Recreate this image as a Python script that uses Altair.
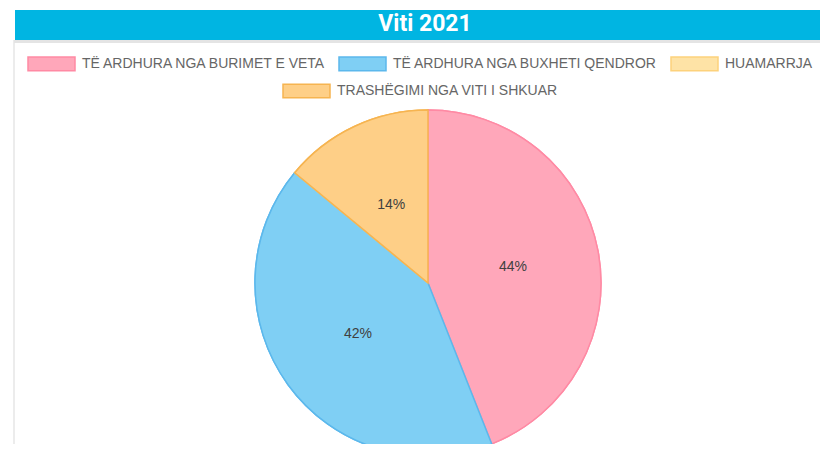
import altair as alt
import pandas as pd

title_text = "Viti 2021"
categories = [
    "TË ARDHURA NGA BURIMET E VETA",
    "TË ARDHURA NGA BUXHETI QENDROR",
    "HUAMARRJA",
    "TRASHËGIMI NGA VITI I SHKUAR",
]
shares = [44, 42, 0, 14]
fill_colors = ["#ffa7ba", "#7fcff4", "#fee3a6", "#fecf87"]
stroke_colors = ["#ff8aa4", "#5cb8ec", "#fdd27c", "#f6b450"]

df = pd.DataFrame({
    "category": categories,
    "share": shares,
    "idx": list(range(len(categories))),
    "label": [f"{v}%" for v in shares],
})

W, H = 812, 436
CX, CY, R = 420, 275, 173
RECT_SYM = "M-1,-0.29L1,-0.29L1,0.29L-1,0.29Z"

bg = pd.DataFrame({"t": [title_text]})

card_edge = alt.Chart(bg).mark_rule(color="#ececec", strokeWidth=2).encode(
    x=alt.value(6), y=alt.value(32), y2=alt.value(H)
)
bar_shadow = alt.Chart(bg).mark_rule(color="#e4e4e4", strokeWidth=3).encode(
    x=alt.value(6), x2=alt.value(W), y=alt.value(33.5)
)
bar = alt.Chart(bg).mark_rect(color="#00b5e2").encode(
    x=alt.value(7), x2=alt.value(W), y=alt.value(2), y2=alt.value(32)
)
title = alt.Chart(bg).mark_text(
    color="white", fontSize=23, fontWeight="bold",
    font="Roboto", baseline="middle",
).encode(text="t:N", x=alt.value(417), y=alt.value(16))


def legend(vals, lx, ly):
    return alt.Legend(
        values=vals, orient="none", legendX=lx, legendY=ly,
        direction="horizontal", title=None,
        symbolType=RECT_SYM, symbolSize=2209, symbolStrokeWidth=1.5,
        symbolOpacity=1,
        labelFont="Liberation Sans", labelFontSize=14, labelColor="#666666",
        labelLimit=500, labelOffset=6, columnPadding=9,
    )


theta = alt.Theta("share:Q", stack=True)
order = alt.Order("idx:O")

arc_b = alt.Chart(df).mark_arc(outerRadius=R, strokeWidth=1.5).encode(
    theta=theta, order=order,
    fill=alt.Fill("category:N", scale=alt.Scale(domain=categories, range=fill_colors),
                  legend=legend([categories[3]], 274, 58.5)),
    stroke=alt.Stroke("category:N", scale=alt.Scale(domain=categories, range=stroke_colors),
                      legend=legend([categories[3]], 274, 58.5)),
    x=alt.value(CX), y=alt.value(CY),
)
arc_a = alt.Chart(df).mark_arc(outerRadius=R, strokeWidth=1.5).encode(
    theta=theta, order=order,
    fill=alt.Fill("category:N", scale=alt.Scale(domain=categories, range=fill_colors),
                  legend=legend(categories[:3], 19, 31)),
    stroke=alt.Stroke("category:N", scale=alt.Scale(domain=categories, range=stroke_colors),
                      legend=legend(categories[:3], 19, 31)),
    x=alt.value(CX), y=alt.value(CY),
)
labels = alt.Chart(df).transform_filter("datum.share > 0").mark_text(
    radius=R / 2, fontSize=14, font="Liberation Sans", color="#404040"
).encode(
    theta=theta, order=order, text="label:N",
    x=alt.value(CX), y=alt.value(CY),
)

chart = alt.layer(card_edge, bar_shadow, bar, title, arc_b, arc_a, labels).resolve_scale(
    fill="independent", stroke="independent"
).properties(
    width=W, height=H, padding=0, autosize=alt.AutoSizeParams(type="none"),
    background="white",
).configure_view(stroke=None)

chart.save("out.html", embed_options={"renderer": "svg", "actions": False})
